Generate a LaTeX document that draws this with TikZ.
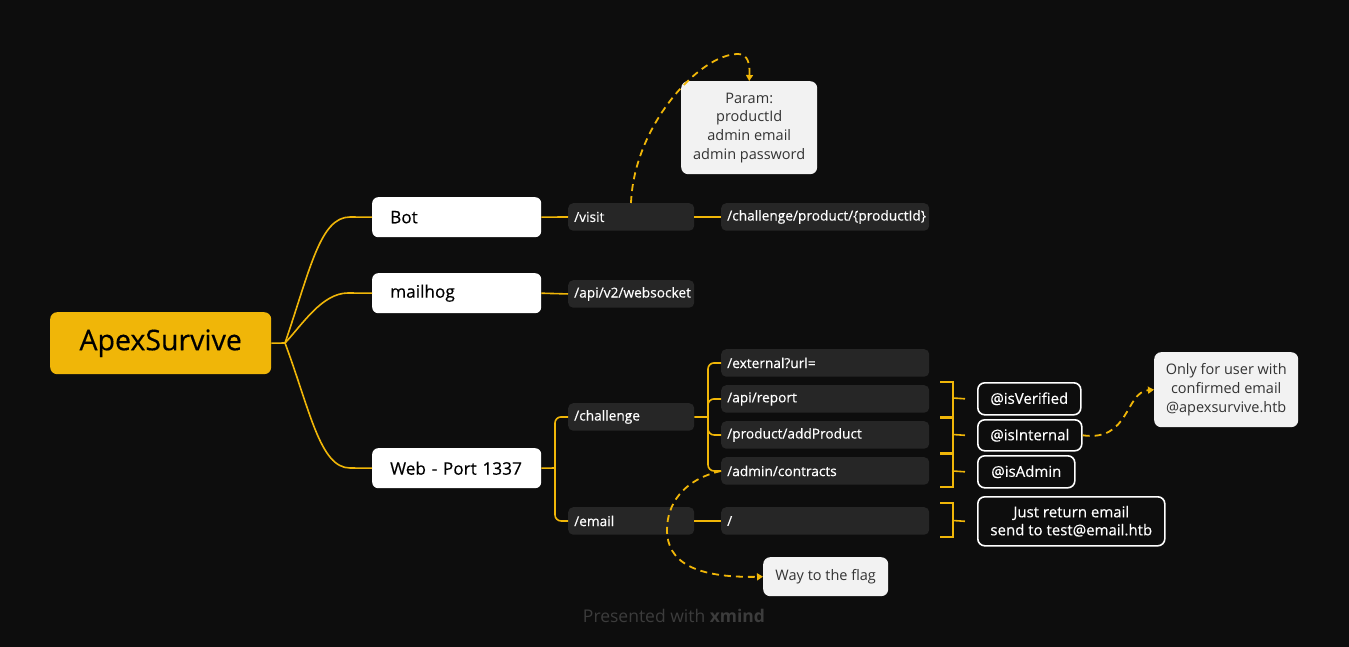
\documentclass[tikz,border=0pt]{standalone}
\usepackage{fontspec}
\setmainfont{Open Sans}
\newfontfamily\medfont[FakeBold=0.35]{Open Sans}
\usetikzlibrary{arrows.meta,calc}
\definecolor{bg}{HTML}{0D0D0D}
\definecolor{ylw}{HTML}{F0B608}
\definecolor{dk}{HTML}{262626}
\definecolor{lt}{HTML}{F2F2F2}
\definecolor{lttext}{HTML}{333333}
\definecolor{foot}{HTML}{3C3C3C}
\begin{document}
\begin{tikzpicture}[x=1pt,y=-1pt,
  conn/.style={draw=ylw, line width=1.6pt},
  dconn/.style={draw=ylw, line width=1.8pt, dash pattern=on 7pt off 5pt, -{Triangle[width=7pt,length=6pt]}},
  darkbox/.style={fill=dk, rounded corners=5pt, text=white, font=\medfont\fontsize{13.7}{16}\selectfont,
    inner xsep=6pt, inner ysep=0pt, minimum height=27.5pt, anchor=north west, align=left},
  whitebox/.style={fill=white, rounded corners=6pt, text=black, font=\medfont\fontsize{17.2}{20}\selectfont,
    inner xsep=18pt, inner ysep=0pt, minimum height=40pt, text width=133pt, align=left, anchor=north west},
  tagbox/.style={draw=white, line width=1.6pt, fill=bg, rounded corners=7pt, text=white,
    font=\medfont\fontsize{15}{18}\selectfont, inner sep=0pt, anchor=north west, align=center},
  lightbox/.style={fill=lt, rounded corners=7pt, text=lttext, font=\fontsize{14.5}{18.7}\selectfont,
    inner sep=0pt, anchor=north west, align=center}
]
\useasboundingbox (0,0) rectangle (1349,647);
\fill[bg] (0,0) rectangle (1349,647);

% main
\node[fill=ylw, rounded corners=7pt, text=black, font=\medfont\fontsize{28.5}{32}\selectfont, inner sep=0pt,
  minimum width=221pt, minimum height=62pt, anchor=north west] (apex) at (50,312) {ApexSurvive};

% first level
\node[whitebox] (bot) at (372,197) {Bot};
\node[whitebox] (mail) at (372,273) {mailhog};
\node[whitebox] (web) at (372,448) {Web - Port 1337};

% second level
\node[darkbox, text width=114pt] (visit) at (568,203) {/visit};
\node[darkbox, text width=196pt] (prod) at (721,203) {/challenge/product/\{productId\}};
\node[darkbox, text width=114pt] (ws) at (568,280) {/api/v2/websocket};
\node[darkbox, text width=114pt] (chal) at (568,403) {/challenge};
\node[darkbox, text width=114pt] (email) at (568,507) {/email};
\node[darkbox, text width=196pt] (ext) at (721,349) {/external?url=};
\node[darkbox, text width=196pt] (rep) at (721,385) {/api/report};
\node[darkbox, text width=196pt] (add) at (721,421) {/product/addProduct};
\node[darkbox, text width=196pt] (adm) at (721,457) {/admin/contracts};
\node[darkbox, text width=196pt] (root) at (721,507) {/};

% tags
\node[tagbox, minimum width=103pt, minimum height=32pt] (ver) at (977,382) {@isVerified};
\node[tagbox, minimum width=104pt, minimum height=31pt] (int) at (977,419) {@isInternal};
\node[tagbox, minimum width=97pt, minimum height=32pt] (admt) at (977,455) {@isAdmin};
\node[tagbox, minimum width=187pt, minimum height=49pt] (just) at (977,496) {Just return email\\send to test@email.htb};

% light notes
\node[lightbox, minimum width=136pt, minimum height=93pt] (param) at (681,81) {Param:\\productId\\admin email\\admin password};
\node[lightbox, minimum width=144pt, minimum height=75pt] (only) at (1154,352) {Only for user with\\confirmed email\\@apexsurvive.htb};
\node[lightbox, minimum width=125pt, minimum height=39pt] (flag) at (763,557) {Way to the flag};

% footer
\node[text=foot, font=\fontsize{17.5}{20}\selectfont] (footer) at (674,616) {Presented with \textbf{xmind}};

% root connectors
\coordinate (j0) at (285,343);
\draw[conn] (apex.east) -- (j0);
\draw[conn] (j0) .. controls (310,270) and (320,217) .. (350,217) -- (bot.west);
\draw[conn] (j0) .. controls (302,325) and (322,293) .. (348,293) -- (mail.west);
\draw[conn] (j0) .. controls (310,410) and (320,468) .. (350,468) -- (web.west);

% bot / mailhog
\draw[conn] (bot.east) -- (visit.west);
\draw[conn] (visit.east) -- (prod.west);
\draw[conn] (mail.east) -- (ws.west);

% web
\coordinate (j1) at (555,468);
\draw[conn] (web.east) -- (j1);
\draw[conn, rounded corners=6pt] (j1) |- (chal.west);
\draw[conn, rounded corners=6pt] (j1) |- (email.west);

\coordinate (j2) at (708,417);
\draw[conn] (chal.east) -- (j2);
\draw[conn, rounded corners=6pt] (j2) |- (ext.west);
\draw[conn, rounded corners=6pt] (j2) |- (rep.west);
\draw[conn, rounded corners=6pt] (j2) |- (add.west);
\draw[conn, rounded corners=6pt] (j2) |- (adm.west);
\draw[conn] (email.east) -- (root.west);

% brackets
\draw[conn] (940,382) -- (953,382) -- (953,417) -- (940,417);
\draw[conn] (953,398) -- ($(ver.west)+(-12,0)$);
\draw[conn] (940,418) -- (953,418) -- (953,453) -- (940,453);
\draw[conn] (953,434.5) -- ($(int.west)+(-12,0)$);
\draw[conn] (940,454) -- (953,454) -- (953,487) -- (940,487);
\draw[conn] (953,471) -- ($(admt.west)+(-12,0)$);
\draw[conn] (940,503) -- (953,503) -- (953,537) -- (940,537);
\draw[conn] (953,520.5) -- ($(just.west)+(-12,0)$);

% dashed relations
\draw[dconn] (631,203) .. controls (634,125) and (700,54) .. (738,54) .. controls (748,54) and (750,64) .. (param.north);
\draw[dconn] (int.east) .. controls (1130,442) and (1125,392) .. (only.west);
\draw[dconn] (adm.west) .. controls (682,480) and (667,505) .. (667,530) .. controls (667,562) and (695,578) .. (flag.west);
\end{tikzpicture}
\end{document}
